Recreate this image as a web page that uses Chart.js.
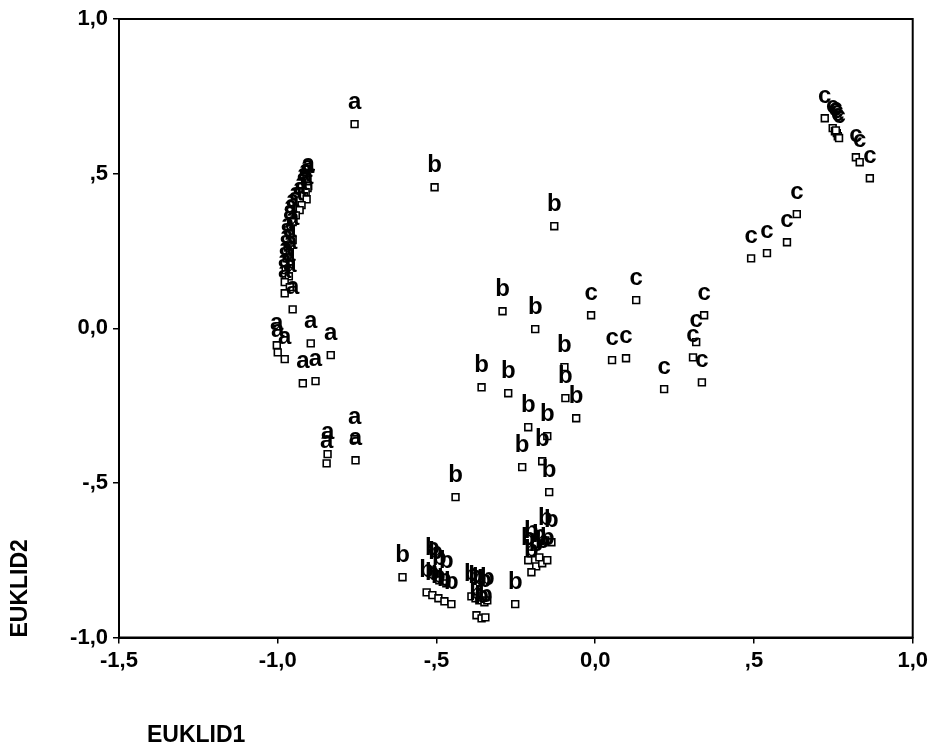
<!DOCTYPE html>
<html>
<head>
<meta charset="utf-8">
<script src="https://cdn.jsdelivr.net/npm/chart.js@4/dist/chart.umd.min.js"></script>
<style>
  html, body { margin: 0; padding: 0; background: #fff; }
  #wrap { width: 932px; height: 751px; }
</style>
</head>
<body>
<div id="wrap"><canvas id="c" width="932" height="751"></canvas></div>
<script>
// ---- data ----
const seriesNames = ['a', 'b', 'c'];

const aX = [-0.758, -0.904, -0.906, -0.912, -0.918, -0.909, -0.925, -0.931, -0.943, -0.953, -0.959, -0.962, -0.953, -0.969, -0.962, -0.972, -0.959, -0.975, -0.965, -0.978, -0.962, -0.978, -0.953, -1.003, -1.000, -0.978, -0.896, -0.833, -0.921, -0.881, -0.843, -0.846, -0.758, -0.755];
const aY = [0.660, 0.460, 0.453, 0.440, 0.427, 0.417, 0.398, 0.382, 0.365, 0.343, 0.323, 0.304, 0.285, 0.265, 0.246, 0.226, 0.207, 0.188, 0.168, 0.149, 0.133, 0.113, 0.061, -0.055, -0.078, -0.100, -0.049, -0.087, -0.178, -0.171, -0.407, -0.437, -0.359, -0.427];

const bX = [-0.506, -0.129, -0.292, -0.189, -0.358, -0.274, -0.097, -0.094, -0.060, -0.211, -0.151, -0.230, -0.167, -0.145, -0.440, -0.138, -0.157, -0.211, -0.201, -0.186, -0.167, -0.151, -0.201, -0.176, -0.252, -0.607, -0.513, -0.503, -0.531, -0.513, -0.494, -0.475, -0.453, -0.491, -0.469, -0.390, -0.377, -0.365, -0.349, -0.340, -0.374, -0.358, -0.346];
const bY = [0.456, 0.330, 0.055, -0.003, -0.191, -0.210, -0.126, -0.226, -0.291, -0.320, -0.349, -0.449, -0.430, -0.530, -0.546, -0.692, -0.686, -0.750, -0.728, -0.770, -0.760, -0.750, -0.789, -0.741, -0.892, -0.805, -0.783, -0.795, -0.854, -0.863, -0.873, -0.883, -0.892, -0.815, -0.825, -0.867, -0.873, -0.880, -0.886, -0.880, -0.928, -0.938, -0.935];

const cX = [-0.013, 0.129, 0.053, 0.097, 0.217, 0.343, 0.318, 0.308, 0.336, 0.491, 0.541, 0.604, 0.635, 0.723, 0.748, 0.755, 0.761, 0.764, 0.758, 0.768, 0.821, 0.833, 0.865];
const cY = [0.042, 0.091, -0.103, -0.097, -0.197, 0.042, -0.045, -0.094, -0.175, 0.226, 0.243, 0.278, 0.369, 0.679, 0.647, 0.637, 0.631, 0.621, 0.640, 0.615, 0.553, 0.537, 0.485];

const xTickValues = [-1.5, -1.0, -0.5, 0.0, 0.5, 1.0];
const xTickLabels = ['-1,5', '-1,0', '-,5', '0,0', ',5', '1,0'];
const yTickValues = [-1.0, -0.5, 0.0, 0.5, 1.0];
const yTickLabels = ['-1,0', '-,5', '0,0', ',5', '1,0'];

const xTitle = 'EUKLID1';
const yTitle = 'EUKLID2';

// ---- build ----
function pts(xs, ys) { return xs.map((x, i) => ({ x: x, y: ys[i] })); }
const seriesData = [pts(aX, aY), pts(bX, bY), pts(cX, cY)];

const FONT = "'Liberation Sans', Arial, sans-serif";

const datasets = seriesNames.map((name, i) => ({
  label: name,
  data: seriesData[i],
  pointStyle: 'rect',
  pointRadius: 4.8,
  pointBorderWidth: 1.6,
  pointBorderColor: '#000',
  pointBackgroundColor: '#fff',
  showLine: false
}));

function labelFor(values, labels, v) {
  for (let i = 0; i < values.length; i++) {
    if (Math.abs(values[i] - v) < 1e-6) return labels[i];
  }
  return '';
}

const whiteBg = {
  id: 'whiteBg',
  beforeDraw(chart) {
    const ctx = chart.ctx;
    ctx.save();
    ctx.fillStyle = '#fff';
    ctx.fillRect(0, 0, chart.width, chart.height);
    ctx.restore();
  }
};

const frame = {
  id: 'frame',
  afterDatasetsDraw(chart) {
    const a = chart.chartArea, ctx = chart.ctx;
    ctx.save();
    ctx.strokeStyle = '#000';
    ctx.lineWidth = 2;
    ctx.strokeRect(a.left, a.top, a.right - a.left, a.bottom - a.top);
    ctx.restore();
  }
};

const pointLabels = {
  id: 'pointLabels',
  afterDatasetsDraw(chart) {
    const ctx = chart.ctx;
    ctx.save();
    ctx.fillStyle = '#000';
    ctx.font = "bold 24px " + FONT;
    ctx.textAlign = 'center';
    ctx.textBaseline = 'alphabetic';
    chart.data.datasets.forEach((ds, di) => {
      const meta = chart.getDatasetMeta(di);
      meta.data.forEach(el => {
        ctx.fillText(ds.label, el.x, el.y - 15);
      });
    });
    ctx.restore();
  }
};

const xTitlePlugin = {
  id: 'xTitlePlugin',
  afterDraw(chart) {
    const ctx = chart.ctx;
    ctx.save();
    ctx.fillStyle = '#000';
    ctx.font = "bold 23px " + FONT;
    ctx.textAlign = 'left';
    ctx.textBaseline = 'middle';
    ctx.fillText(xTitle, 147, 736);
    ctx.restore();
  }
};

new Chart(document.getElementById('c'), {
  type: 'scatter',
  data: { datasets: datasets },
  plugins: [whiteBg, pointLabels, frame, xTitlePlugin],
  options: {
    responsive: false,
    animation: false,
    events: [],
    layout: { padding: { left: 7, right: 18, top: 19, bottom: 0 } },
    plugins: { legend: { display: false }, tooltip: { enabled: false } },
    scales: {
      x: {
        type: 'linear',
        min: -1.5, max: 1.0,
        afterBuildTicks(scale) { scale.ticks = xTickValues.map(v => ({ value: v })); },
        afterFit(scale) { scale.height = 113.5; },
        ticks: {
          color: '#000',
          font: { family: FONT, size: 22, weight: 'bold' },
          padding: 4,
          maxRotation: 0,
          autoSkip: false,
          callback: (v) => labelFor(xTickValues, xTickLabels, v)
        },
        grid: { display: true, drawOnChartArea: false, drawTicks: true, tickLength: 6, color: '#000', lineWidth: 1.5 },
        border: { display: true, color: '#000', width: 2 },
        title: { display: false, text: xTitle }
      },
      y: {
        type: 'linear',
        min: -1.0, max: 1.0,
        afterBuildTicks(scale) { scale.ticks = yTickValues.map(v => ({ value: v })); },
        afterFit(scale) { scale.width = 112; },
        ticks: {
          color: '#000',
          font: { family: FONT, size: 22, weight: 'bold' },
          padding: 5,
          autoSkip: false,
          callback: (v) => labelFor(yTickValues, yTickLabels, v)
        },
        grid: { display: true, drawOnChartArea: false, drawTicks: true, tickLength: 6, color: '#000', lineWidth: 1.5 },
        border: { display: true, color: '#000', width: 2 },
        title: {
          display: true,
          text: yTitle,
          align: 'start',
          color: '#000',
          font: { family: FONT, size: 23, weight: 'bold' },
          padding: { top: 0, bottom: 0 }
        }
      }
    }
  }
});
</script>
</body>
</html>
